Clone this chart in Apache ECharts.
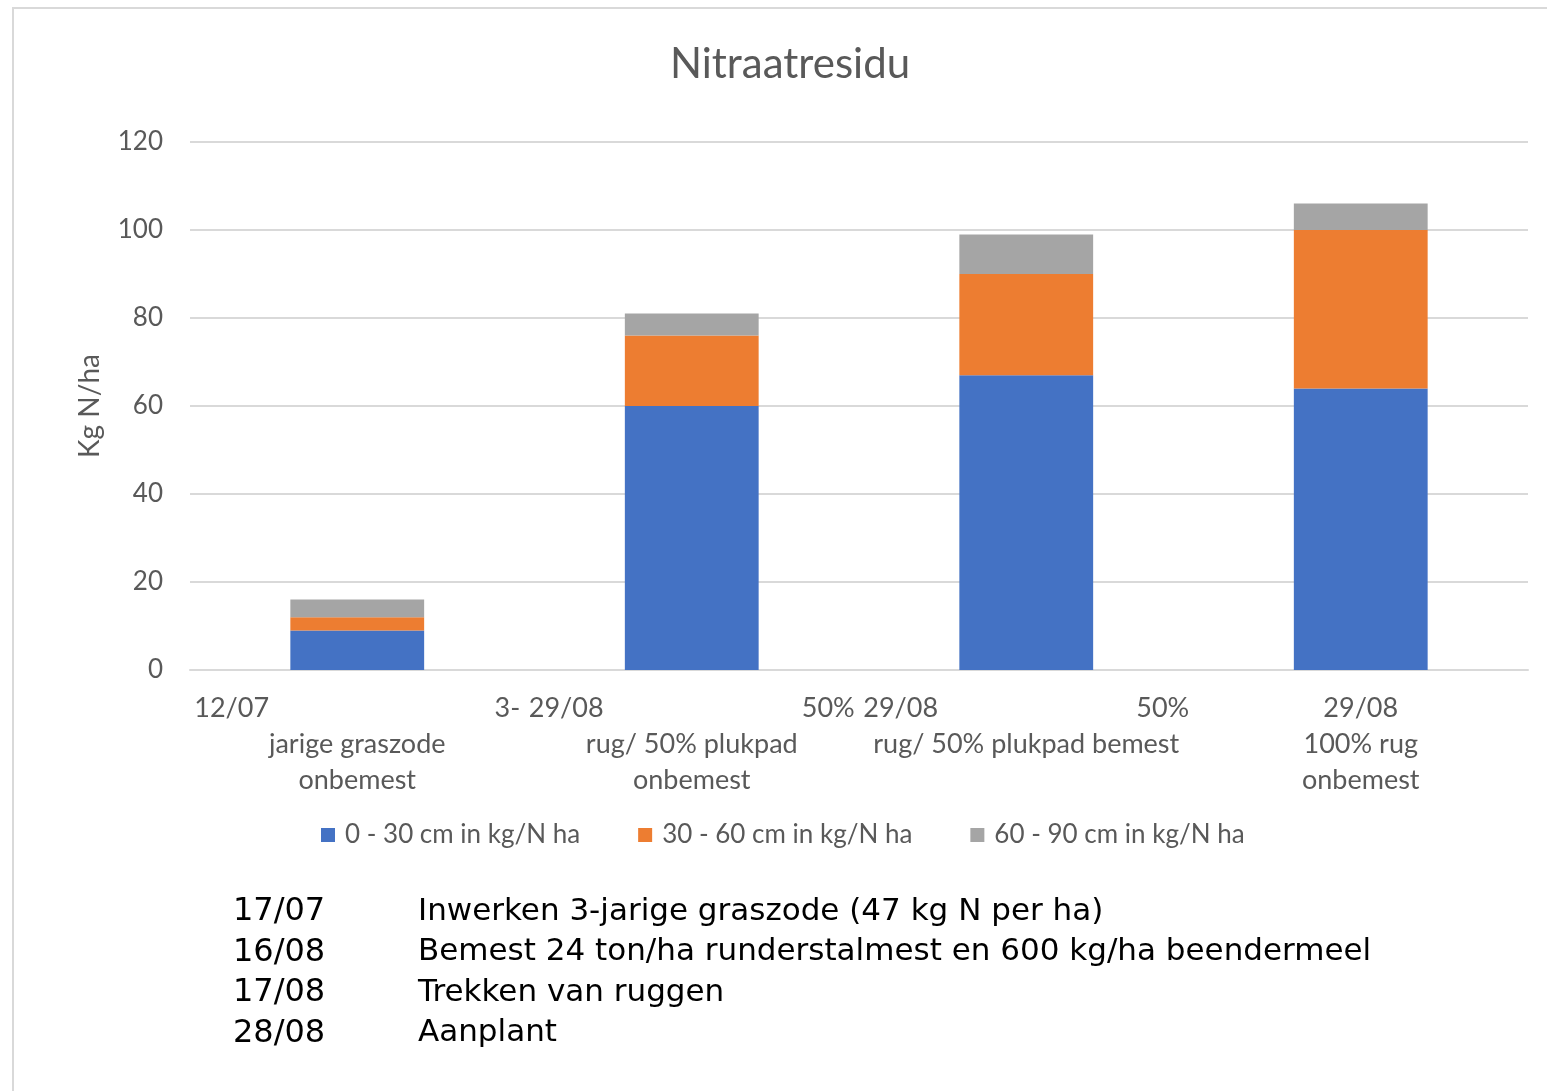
<!DOCTYPE html>
<html>
<head>
<meta charset="utf-8">
<script src="https://cdn.jsdelivr.net/npm/echarts@6/dist/echarts.min.js"></script>
<style>
  html, body { margin: 0; padding: 0; background: #fff; }
  #chart { width: 1547px; height: 1091px; }
</style>
</head>
<body>
<div id="chart"></div>
<script>
// category labels (first line: left part / right part, as Excel wrapped them)
const categories = [
  '12/07 3-\njarige graszode\nonbemest',
  '29/08 50%\nrug/ 50% plukpad\nonbemest',
  '29/08 50%\nrug/ 50% plukpad bemest',
  '29/08\n100% rug\nonbemest'
];
const seriesNames = ['0 - 30 cm in kg/N ha', '30 - 60 cm in kg/N ha', '60 - 90 cm in kg/N ha'];
const depth0_30 = [9, 60, 67, 64];
const depth30_60 = [3, 16, 23, 36];
const depth60_90 = [4, 5, 9, 6];
const yTicks = [0, 20, 40, 60, 80, 100, 120];

const footerDates = ['17/07', '16/08', '17/08', '28/08'];
const footerNotes = [
  'Inwerken 3-jarige graszode (47 kg N per ha)',
  'Bemest 24 ton/ha runderstalmest en 600 kg/ha beendermeel',
  'Trekken van ruggen',
  'Aanplant'
];

const colors = ['#4472C4', '#ED7D31', '#A5A5A5'];
const font = 'Lato, "Open Sans", sans-serif';
const textGrey = '#595959';

const chart = echarts.init(document.getElementById('chart'));

function labelFormatter(val) {
  const lines = val.split('\n');
  const out = [];
  lines.forEach(function (line, i) {
    const parts = line.split(' ');
    if (i === 0 && parts.length === 2) {
      out.push('{l|' + parts[0] + '}{r|' + parts[1] + '}');
    } else {
      out.push('{c|' + line + '}');
    }
  });
  return out.join('\n');
}

const footerGraphics = [];
footerDates.forEach(function (d, i) {
  footerGraphics.push({
    type: 'text', left: 233, top: 896 + i * 40.5,
    style: { text: d, fill: '#000', font: '32px "DejaVu Sans"' }
  });
  footerGraphics.push({
    type: 'text', left: 418, top: 896 + i * 40.5,
    style: { text: footerNotes[i], fill: '#000', font: '31px "DejaVu Sans"' }
  });
});

const stack = [depth0_30, depth30_60, depth60_90];

chart.setOption({
  animation: false,
  color: colors,
  title: {
    text: 'Nitraatresidu',
    left: 785,
    top: 38,
    textAlign: 'center',
    textStyle: { fontFamily: font, fontSize: 42, fontWeight: 'normal', color: textGrey }
  },
  legend: {
    top: 817,
    left: 316,
    itemWidth: 14,
    itemHeight: 14,
    itemGap: 58,
    icon: 'rect',
    textStyle: { fontFamily: font, fontSize: 26, color: textGrey, padding: [0, 0, 0, 5] }
  },
  grid: { left: 190, right: 19, top: 142, bottom: 421, containLabel: false },
  xAxis: {
    type: 'category',
    data: categories,
    axisLine: { lineStyle: { color: '#d9d9d9', width: 2 } },
    axisTick: { show: false },
    axisLabel: {
      margin: 20,
      interval: 0,
      formatter: labelFormatter,
      rich: {
        l: { width: 163, align: 'left', fontFamily: font, fontSize: 27, color: textGrey, lineHeight: 36 },
        r: { width: 163, align: 'right', fontFamily: font, fontSize: 27, color: textGrey, lineHeight: 36 },
        c: { align: 'center', fontFamily: font, fontSize: 27, color: textGrey, lineHeight: 36 }
      }
    }
  },
  yAxis: {
    type: 'value',
    min: yTicks[0],
    max: yTicks[yTicks.length - 1],
    interval: 20,
    name: 'Kg N/ha',
    nameLocation: 'middle',
    nameGap: 86,
    nameRotate: 90,
    nameTextStyle: { fontFamily: font, fontSize: 28, color: textGrey },
    axisLine: { show: false },
    axisTick: { show: false },
    axisLabel: { margin: 27, fontFamily: font, fontSize: 26, color: textGrey },
    splitLine: { lineStyle: { color: '#d9d9d9', width: 2 } }
  },
  series: stack.map(function (data, i) {
    return {
      name: seriesNames[i],
      type: 'bar',
      stack: 'total',
      barWidth: '40%',
      data: data
    };
  }),
  graphic: [
    {
      type: 'rect',
      shape: { x: 13, y: 8, width: 1600, height: 1200 },
      style: { fill: 'none', stroke: '#d9d9d9', lineWidth: 2 },
      z: -1
    }
  ].concat(footerGraphics)
});
</script>
</body>
</html>
